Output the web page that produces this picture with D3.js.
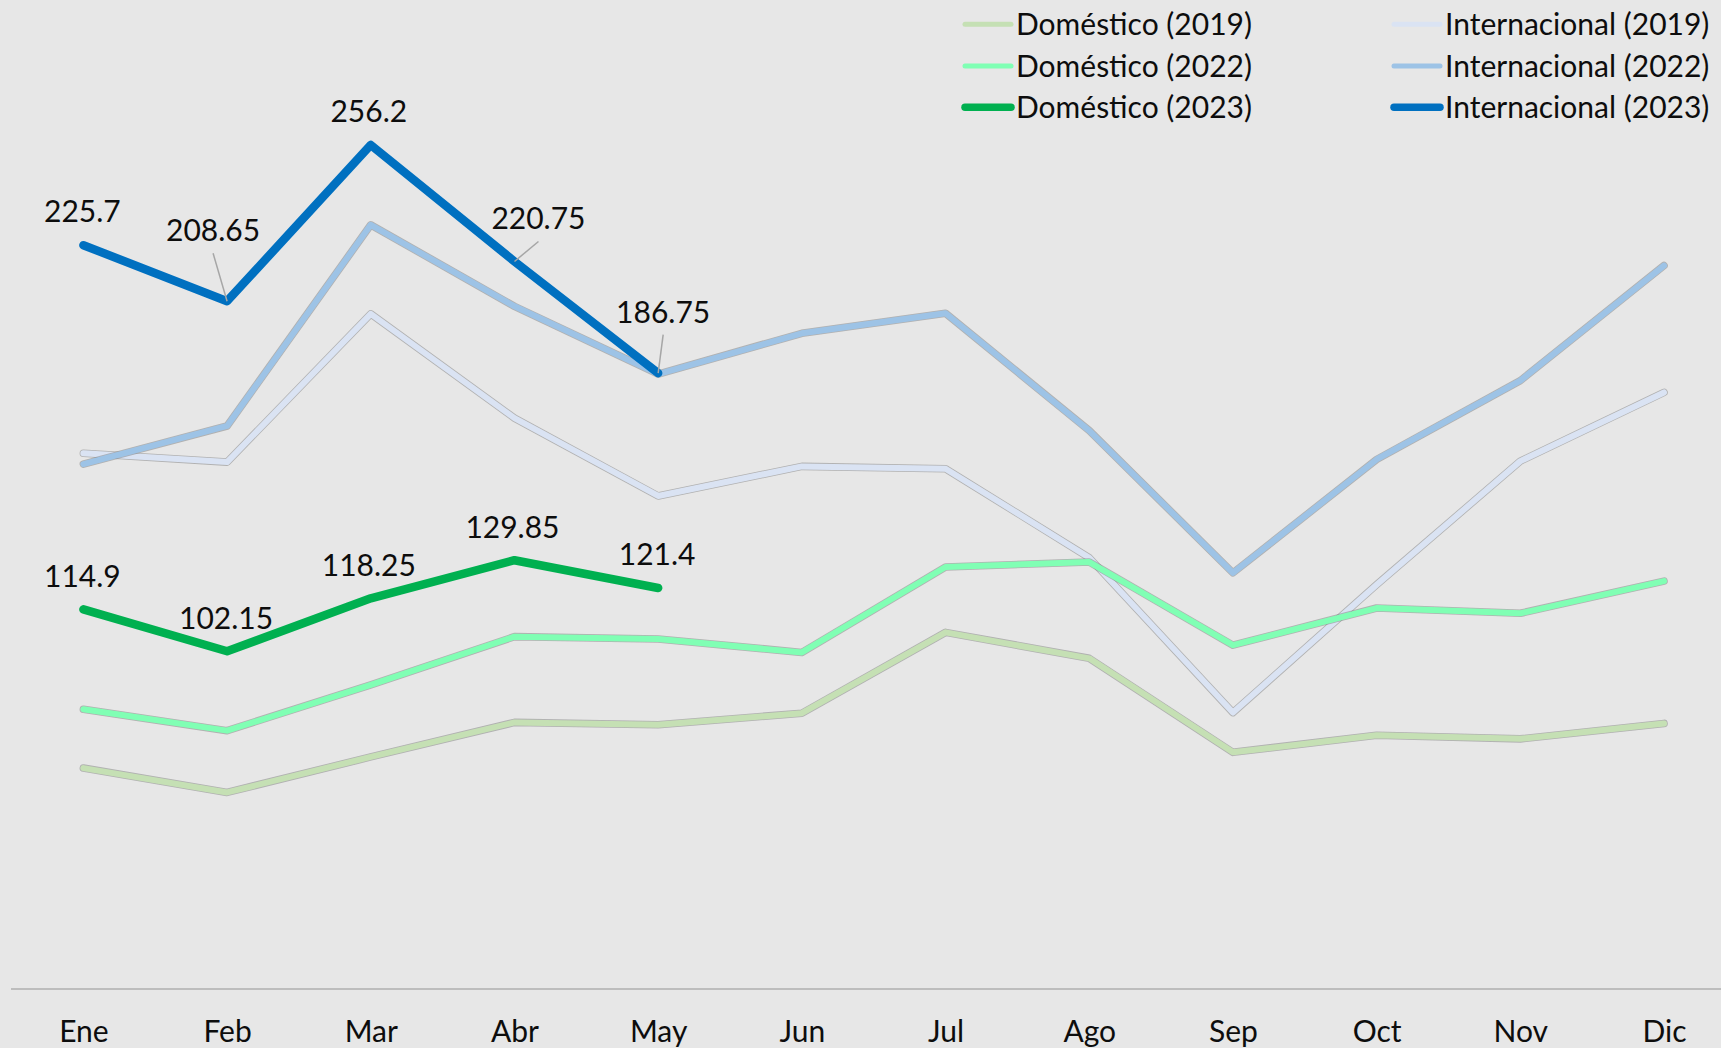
<!DOCTYPE html>
<html>
<head>
<meta charset="utf-8">
<script src="https://cdn.jsdelivr.net/npm/d3@7/dist/d3.min.js"></script>
<style>
  html, body { margin: 0; padding: 0; background: #e7e7e7; }
  svg { display: block; }
  text { font-family: Lato, "Open Sans", sans-serif; fill: #0d0d0d; }
</style>
</head>
<body>
<svg id="chart" width="1721" height="1048"></svg>
<script>
// ---- data ----
const months = ["Ene","Feb","Mar","Abr","May","Jun","Jul","Ago","Sep","Oct","Nov","Dic"];

const dom2019 = [66.6, 59.2, 70.0, 80.5, 79.8, 83.3, 107.9, 100.0, 71.4, 76.6, 75.5, 80.2];
const dom2022 = [84.5, 78.0, 91.9, 106.6, 105.9, 101.8, 127.8, 129.3, 104.0, 115.3, 113.7, 123.5];
const dom2023 = [114.9, 102.15, 118.25, 129.85, 121.4];

const int2019 = [162.4, 159.7, 204.8, 173.1, 149.4, 158.4, 157.7, 130.6, 83.5, 122.4, 160.0, 180.9];
const int2022 = [159.1, 170.7, 231.9, 207.1, 186.5, 198.9, 205.0, 169.3, 126.0, 160.5, 184.5, 219.5];
const int2023 = [225.7, 208.65, 256.2, 220.75, 186.75];

const seriesNames = ["Doméstico (2019)","Internacional (2019)","Doméstico (2022)","Internacional (2022)","Doméstico (2023)","Internacional (2023)"];
const seriesValues = [dom2019, int2019, dom2022, int2022, dom2023, int2023];
const seriesColors = ["#c5e0b4", "#dae3f3", "#80ffb4", "#9dc3e6", "#00b050", "#0070c0"];
const seriesWidths = [6, 6, 6, 6, 8.5, 8.5];
const seriesShadow = [true, true, true, true, false, false];

// label offsets for labelled series (2023)
const int2023LabelOffsets = [[-1,-33.5],[-14,-71],[-2,-34],[24,-43],[5,-61.5]];
const int2023Leaders = [false, true, false, true, true];
const dom2023LabelOffsets = [[-1,-33],[-1,-33],[-2,-33.5],[-2,-33.5],[-1,-34]];

// ---- chart ----
const W = 1721, H = 1048;
const FS = "30px";
const svg = d3.select("#chart");
svg.append("rect").attr("width", W).attr("height", H).attr("fill", "#e7e7e7");

const x = d3.scalePoint().domain(months).range([83.4, 1664]);
const y = d3.scaleLinear().domain([0, 300]).range([987, 1]);

// x axis
const axisY = 989;
const axisG = svg.append("g").attr("transform", `translate(0,${axisY})`)
  .call(d3.axisBottom(x).tickSize(0).tickPadding(0));
axisG.select(".domain").remove();
axisG.append("line").attr("x1", 11).attr("x2", W).attr("y1", 0).attr("y2", 0)
  .attr("stroke", "#bdbdbd").attr("stroke-width", 2.2);
axisG.selectAll(".tick text")
  .attr("y", 53).attr("dy", 0)
  .style("font-family", "Lato, 'Open Sans', sans-serif")
  .style("font-size", FS).attr("fill", "#0d0d0d");

const line = d3.line()
  .x((d, i) => x(months[i]))
  .y(d => y(d));

const linesG = svg.append("g");
seriesValues.forEach((vals, si) => {
  if (seriesShadow[si]) {
    linesG.append("path").datum(vals)
      .attr("d", line).attr("fill", "none")
      .attr("stroke", "rgba(110,110,110,0.45)")
      .attr("stroke-width", seriesWidths[si] + 1.6)
      .attr("stroke-linejoin", "round").attr("stroke-linecap", "round");
  }
  linesG.append("path").datum(vals)
    .attr("d", line).attr("fill", "none")
    .attr("stroke", seriesColors[si])
    .attr("stroke-width", seriesWidths[si])
    .attr("stroke-linejoin", "round").attr("stroke-linecap", "round");
});

// data labels
function addLabels(vals, offsets, leaders) {
  const g = svg.append("g");
  vals.forEach((v, i) => {
    const px = x(months[i]), py = y(v);
    const lx = px + offsets[i][0], ly = py + offsets[i][1];
    if (leaders && leaders[i]) {
      g.append("line").attr("x1", lx).attr("y1", ly + 23).attr("x2", px).attr("y2", py)
        .attr("stroke", "#a6a6a6").attr("stroke-width", 1.5);
    }
    g.append("text").attr("x", lx).attr("y", ly).attr("dy", "0.36em")
      .attr("text-anchor", "middle").style("font-size", FS)
      .text(String(v));
  });
}
addLabels(int2023, int2023LabelOffsets, int2023Leaders);
addLabels(dom2023, dom2023LabelOffsets, null);

// legend
const legendCols = [962, 1391];
const legendRows = [24.3, 66, 107.3];
const legendOrder = [0, 2, 4, 1, 3, 5];
const lg = svg.append("g");
legendOrder.forEach((si, k) => {
  const col = Math.floor(k / 3), row = k % 3;
  const lx = legendCols[col], ly = legendRows[row];
  const w = seriesWidths[si] > 7 ? 7.5 : 5;
  lg.append("line").attr("x1", lx + 3).attr("x2", lx + 49).attr("y1", ly).attr("y2", ly)
    .attr("stroke", seriesColors[si]).attr("stroke-width", w).attr("stroke-linecap", "round");
  lg.append("text").attr("x", lx + 54).attr("y", ly).attr("dy", "0.36em")
    .style("font-size", FS).text(seriesNames[si]);
});
</script>
</body>
</html>
